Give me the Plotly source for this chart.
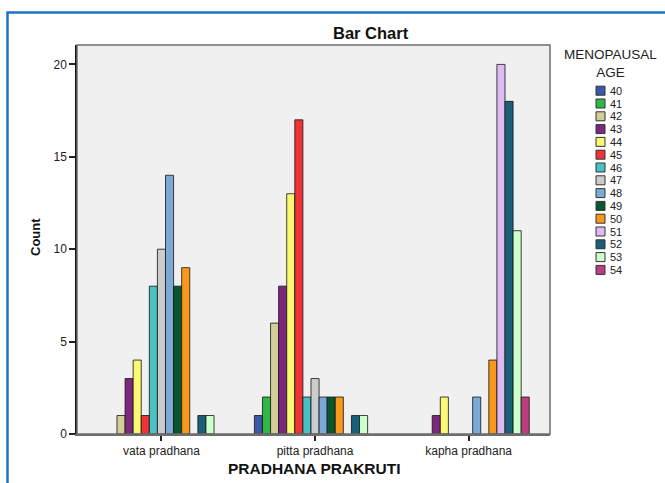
import plotly.graph_objects as go

categories = ["vata pradhana", "pitta pradhana", "kapha pradhana"]
ages = ["40", "41", "42", "43", "44", "45", "46", "47", "48", "49", "50", "51", "52", "53", "54"]
# counts per age: [vata, pitta, kapha]
counts = {
    "40": [0, 1, 0],
    "41": [0, 2, 0],
    "42": [1, 6, 0],
    "43": [3, 8, 1],
    "44": [4, 13, 2],
    "45": [1, 17, 0],
    "46": [8, 2, 0],
    "47": [10, 3, 0],
    "48": [14, 2, 2],
    "49": [8, 2, 0],
    "50": [9, 2, 4],
    "51": [0, 0, 20],
    "52": [1, 1, 18],
    "53": [1, 1, 11],
    "54": [0, 0, 2],
}
colors = ["#3E58AC", "#2EB848", "#D3CE97", "#7C287D", "#FBF873", "#EF3338", "#48C2C5",
          "#CCCCCC", "#7AAAD5", "#0A562C", "#F8981D", "#DDBAF1", "#1A5F76", "#CCFFCC", "#BB3F7F"]
y_ticks = [0, 5, 10, 15, 20]

W, H = 665, 483
ML, MR, MT, MB = 77, 115, 45, 49
PW, PH = W - ML - MR, H - MT - MB

def px(x):
    return (x - ML) / PW

def py(y):
    return (H - MB - y) / PH

FONT = "Liberation Sans, Arial, sans-serif"

fig = go.Figure()
for age, col in zip(ages, colors):
    vals = counts[age]
    fig.add_trace(go.Bar(
        x=list(range(len(categories))), y=vals, name=age,
        marker=dict(color=col, line=dict(color="rgba(20,20,20,0.8)",
                                         width=[1 if v > 0 else 0 for v in vals])),
        showlegend=False, hoverinfo="skip",
    ))

shapes = [
    # plot frame
    dict(type="rect", xref="paper", yref="paper", x0=0, x1=1, y0=0, y1=1,
         line=dict(color="#6E6E6E", width=1.5), layer="above"),
    # outer blue frame
    dict(type="rect", xref="paper", yref="paper", x0=px(7.5), x1=px(700), y0=py(520), y1=py(12.5),
         line=dict(color="#1C74C6", width=2.5)),
]
annotations = [
    dict(text="<b>Bar Chart</b>", x=px(371), y=py(33), xref="paper", yref="paper",
         showarrow=False, font=dict(family=FONT, size=16.5, color="#111"), xanchor="center", yanchor="middle"),
    dict(text="<b>PRADHANA PRAKRUTI</b>", x=px(314), y=py(468), xref="paper", yref="paper",
         showarrow=False, font=dict(family=FONT, size=15.5, color="#111"), xanchor="center", yanchor="middle"),
    dict(text="<b>Count</b>", x=px(35), y=py(237), xref="paper", yref="paper", textangle=-90,
         showarrow=False, font=dict(family=FONT, size=13, color="#111"), xanchor="center", yanchor="middle"),
    dict(text="MENOPAUSAL<br>AGE", x=px(610), y=py(63.5), xref="paper", yref="paper",
         showarrow=False, borderpad=0, font=dict(family=FONT, size=13.5, color="#222"),
         xanchor="center", yanchor="middle", align="center"),
]
for i, (age, col) in enumerate(zip(ages, colors)):
    cy = 90.7 + i * 12.8
    shapes.append(dict(type="rect", xref="paper", yref="paper",
                       x0=px(596), x1=px(605), y0=py(cy + 4.5), y1=py(cy - 4.5),
                       fillcolor=col, line=dict(color="#333", width=1)))
    annotations.append(dict(text=age, x=px(609), y=py(cy), xref="paper", yref="paper",
                            showarrow=False, borderpad=0,
                            font=dict(family=FONT, size=11, color="#222"),
                            xanchor="left", yanchor="middle"))

fig.update_layout(
    width=W, height=H,
    margin=dict(l=ML, r=MR, t=MT, b=MB),
    paper_bgcolor="white", plot_bgcolor="#F0F0F0",
    barmode="group", bargap=0.21, bargroupgap=0,
    shapes=shapes, annotations=annotations,
    font=dict(family=FONT, color="#222"),
    xaxis=dict(range=[-0.55, 2.53], tickmode="array", tickvals=list(range(len(categories))),
               ticktext=categories, ticks="outside", ticklen=5, tickcolor="#222", tickwidth=1.5,
               showline=True, linecolor="#6E6E6E", linewidth=1.5, showgrid=False, zeroline=False,
               tickfont=dict(family=FONT, size=12, color="#222")),
    yaxis=dict(range=[0, 21.05], tickvals=y_ticks, ticks="outside", ticklen=6, tickcolor="#222",
               tickwidth=1.5, showline=True, linecolor="#111", linewidth=1.5, showgrid=False,
               zeroline=False, tickfont=dict(family=FONT, size=12, color="#222")),
)

fig.write_html("out.html", config={"displayModeBar": False},
               post_script="document.body.style.margin='0';document.body.style.overflow='hidden';")
